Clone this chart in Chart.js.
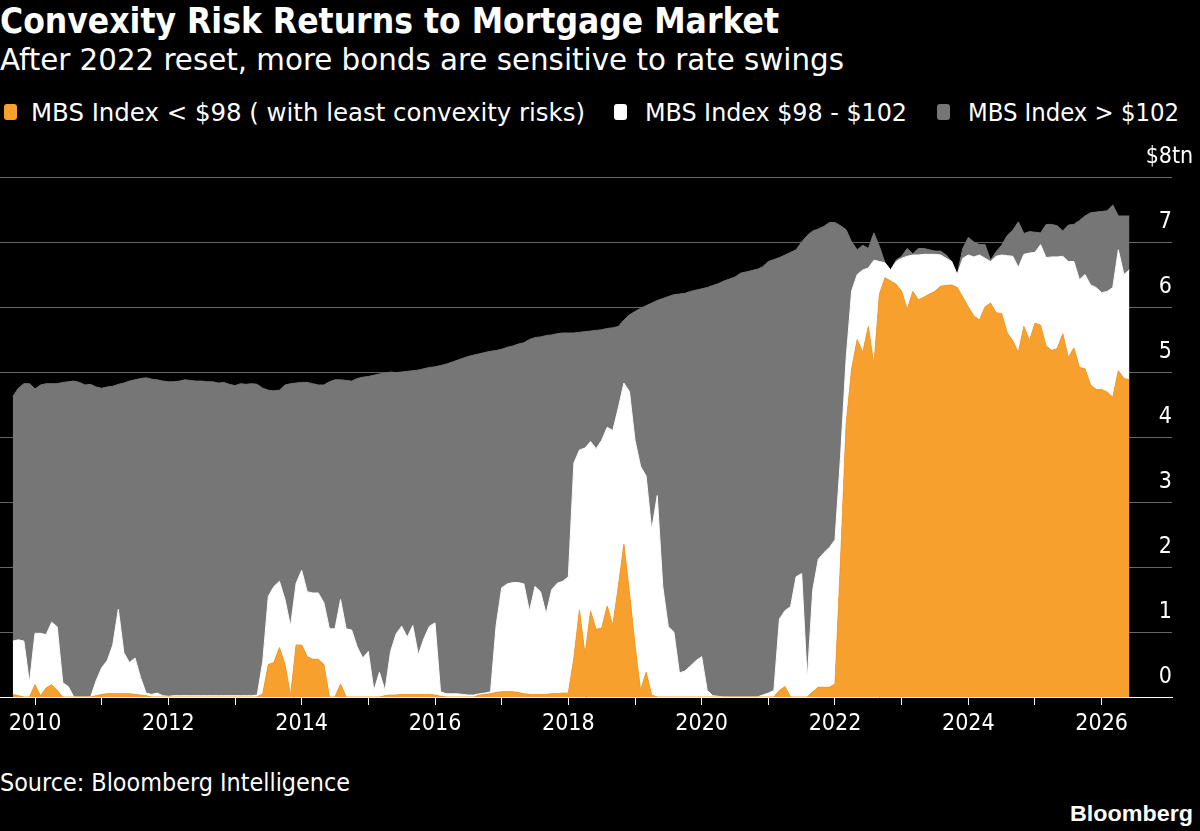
<!DOCTYPE html>
<html><head><meta charset="utf-8">
<script src="https://cdn.jsdelivr.net/npm/chart.js@4.4.1/dist/chart.umd.min.js"></script>
<style>
html,body{margin:0;padding:0;background:#000;width:1200px;height:831px;overflow:hidden;}
.t{position:absolute;white-space:nowrap;color:#fff;line-height:1;transform-origin:0 0;font-family:'Liberation Sans Narrow','DejaVu Sans Condensed','Arial Narrow',sans-serif;}
#title{left:0;top:4px;font-size:35px;font-weight:bold;}
#subtitle{left:0;top:45px;font-size:30px;}
.sw{position:absolute;width:13px;height:16px;border-radius:3px;top:104px;}
.lg{top:101px;font-size:24px;}
#source{left:0;top:771px;font-size:24px;}
#logo{top:803px;font-size:22px;font-weight:bold;font-family:'Liberation Sans','DejaVu Sans',sans-serif;}
canvas{position:absolute;left:0;top:140px;}
</style></head>
<body>
<div id="title" class="t">Convexity Risk Returns to Mortgage Market</div>
<div id="subtitle" class="t">After 2022 reset, more bonds are sensitive to rate swings</div>
<div class="sw" style="left:4px;background:#F8A02E"></div>
<div id="lg0" class="t lg"></div>
<div class="sw" style="left:614px;background:#ffffff"></div>
<div id="lg1" class="t lg"></div>
<div class="sw" style="left:937px;background:#767676"></div>
<div id="lg2" class="t lg"></div>
<canvas id="c" width="1200" height="607"></canvas>
<div id="source" class="t">Source: Bloomberg Intelligence</div>
<div id="logo" class="t">Bloomberg</div>
<script>
// ---- data (monthly, Sep 2009 .. Jun 2026), $ trillions ----
const startYear = 2009, startMonth = 9;
const seriesNames = ['MBS Index < $98 ( with least convexity risks)', 'MBS Index $98 - $102', 'MBS Index > $102'];
const orange = [
  0.04,0.02,0,0,
  0.19,0.02,0.14,0.19,0.10,0,0,0,0,0,0,0.02,
  0.04,0.05,0.05,0.05,0.05,0.05,0.04,0.03,0.02,0,0,0,
  0,0,0,0,0,0,0,0,0,0,0,0,
  0,0,0,0,0,0.05,0.5,0.53,0.76,0.5,0.02,0.8,
  0.8,0.62,0.58,0.58,0.5,0,0,0.2,0,0,0,0,
  0,0,0,0.02,0.03,0.03,0.04,0.04,0.04,0.04,0.04,0.04,
  0.03,0.01,0,0,0,0,0,0,0.03,0.04,0.05,0.07,
  0.08,0.08,0.08,0.07,0.05,0.04,0.04,0.04,0.04,0.05,0.05,0.06,
  0.06,0.6,1.34,0.65,1.32,1.04,1.06,1.4,1.1,1.7,2.35,1.6,
  0.8,0.1,0.38,0.03,0,0,0,0,0,0,0,0,
  0,0,0,0,0,0,0,0,0,0,0,0,
  0,0,0.1,0.16,0,0,0,0,0.08,0.15,0.15,0.15,
  0.2,2.1,4.2,5.05,5.5,5.3,5.7,5.1,6.2,6.45,6.4,6.35,
  6.24,5.96,6.24,6.11,6.15,6.2,6.24,6.32,6.33,6.34,6.3,6.15,
  6.0,5.86,5.8,6.0,6.06,5.91,5.9,5.6,5.48,5.3,5.7,5.48,
  5.75,5.72,5.4,5.33,5.36,5.59,5.22,5.37,5.07,5.05,4.8,4.73,
  4.73,4.69,4.61,5.02,4.9,4.88
];
const white = [
  0.82,0.86,0.86,0.22,
  0.79,0.96,0.82,0.96,0.98,0.22,0.16,0,0,0,0,0.23,
  0.41,0.51,0.75,1.30,0.63,0.48,0.56,0.27,0.04,0.04,0.06,0.02,
  0.01,0.02,0.02,0.02,0.02,0.02,0.02,0.02,0.02,0.02,0.02,0.02,
  0.02,0.02,0.02,0.02,0.03,0.50,1.05,1.17,1.02,1.0,1.07,0.95,
  1.15,1.0,1.02,1.02,0.95,1.05,1.05,1.3,1.05,1.03,0.77,0.6,
  0.7,0.1,0.38,0.08,0.67,0.94,1.05,0.88,1.06,0.61,0.86,1.05,
  1.11,0.07,0.05,0.05,0.05,0.04,0.03,0.03,0.02,0.02,0.03,1.03,
  1.6,1.66,1.68,1.69,1.69,1.28,1.66,1.58,1.24,1.6,1.7,1.72,
  1.79,3.0,2.46,3.18,2.61,2.78,2.89,2.75,3.0,2.75,2.48,3.1,
  3.15,3.45,3.02,2.54,3.1,1.7,1.08,1.0,0.37,0.4,0.48,0.56,
  0.62,0.1,0.02,0.01,0,0,0,0,0,0,0,0.03,
  0.06,0.1,1.1,1.17,1.39,1.85,1.9,0.27,1.57,1.97,2.07,2.15,
  2.22,1.6,1.0,1.2,1.0,1.27,0.9,1.62,0.5,0.23,0.17,0.35,
  0.51,0.82,0.56,0.69,0.66,0.61,0.57,0.48,0.42,0.36,0.2,0.6,
  0.8,0.91,1.0,0.75,0.64,0.87,0.9,1.19,1.3,1.31,1.11,1.35,
  1.09,1.24,1.36,1.44,1.41,1.19,1.48,1.33,1.35,1.45,1.54,1.57,
  1.49,1.55,1.69,1.86,1.6,1.69
];
const gray = [
  3.76,3.87,3.96,4.60,
  3.76,3.82,3.86,3.67,3.74,4.62,4.69,4.86,4.84,4.80,4.81,4.52,
  4.30,4.21,3.98,3.46,4.15,4.33,4.28,4.60,4.85,4.85,4.82,4.84,
  4.84,4.83,4.84,4.86,4.85,4.84,4.84,4.83,4.83,4.81,4.82,4.79,
  4.77,4.80,4.79,4.80,4.78,4.20,3.17,3.01,2.94,3.30,3.73,3.08,
  2.89,3.22,3.22,3.20,3.35,3.80,3.83,3.38,3.82,3.83,4.13,4.32,
  4.23,4.85,4.59,4.88,4.30,4.02,3.91,4.09,3.92,4.38,4.15,3.98,
  3.94,5.02,5.07,5.10,5.13,5.17,5.21,5.23,5.23,5.24,5.24,4.23,
  3.67,3.64,3.64,3.67,3.71,4.18,3.83,3.92,4.28,3.92,3.84,3.82,
  3.75,2.0,1.81,1.79,1.70,1.82,1.70,1.52,1.58,1.25,0.97,1.18,
  1.98,2.43,2.62,3.49,3.0,4.43,5.08,5.19,5.83,5.81,5.76,5.70,
  5.66,6.2,6.31,6.35,6.4,6.43,6.46,6.52,6.54,6.56,6.58,6.59,
  6.64,6.63,5.56,5.47,5.45,5.03,5.1,6.83,5.52,5.08,5.02,5.0,
  4.88,3.55,1.99,0.75,0.38,0.38,0.3,0.42,0.23,0,0,0.02,
  0.03,0.12,0.02,0.1,0.09,0.07,0.05,0.06,0.05,0,0,0.15,
  0.27,0.23,0.16,0.21,0.02,0.07,0.15,0.31,0.4,0.7,0.32,0.33,
  0.31,0.18,0.51,0.5,0.48,0.39,0.56,0.57,0.91,0.9,1.11,1.16,
  1.25,1.24,1.27,0.52,0.9,0.83
];
const yearTicks = [2010,2011,2012,2013,2014,2015,2016,2017,2018,2019,2020,2021,2022,2023,2024,2025,2026];
const yTickValues = [0,1,2,3,4,5,6,7,8];
const yTickLabels = ['0','1','2','3','4','5','6','7','$8tn'];
const yTopUnit = 'tn';

// month positions (decimal years) for each data point
const months = [];
for (let i = 0; i < orange.length; i++) {
  const m = startMonth - 1 + i;
  months.push(startYear + Math.floor(m / 12) + (m % 12) / 12);
}
const pts = arr => arr.map((v, i) => ({x: months[i], y: v}));

const ORANGE = '#F8A02E', WHITE = '#FFFFFF', GRAY = '#767676';
const FONT = "'Liberation Sans Narrow','DejaVu Sans Condensed','Arial Narrow',sans-serif";

// HTML text
document.getElementById('lg0').textContent = seriesNames[0];
document.getElementById('lg1').textContent = seriesNames[1];
document.getElementById('lg2').textContent = seriesNames[2];
function fit(id, left, width) {
  const el = document.getElementById(id);
  el.style.left = left + 'px';
  const w = el.getBoundingClientRect().width;
  el.style.transform = 'scaleX(' + (width / w) + ')';
}
fit('title', 0, 779);
fit('subtitle', 0, 844);
fit('lg0', 31, 554);
fit('lg1', 645, 262);
fit('lg2', 968, 211);
fit('source', 0, 350);
fit('logo', 1070, 123);

const yLabelPlugin = {
  id: 'yLabels',
  afterDraw(chart) {
    const {ctx, chartArea, scales: {y}} = chart;
    ctx.save();
    ctx.fillStyle = '#fff';
    ctx.font = '23px ' + FONT;
    ctx.textBaseline = 'middle';
    yTickValues.forEach((v, k) => {
      const py = y.getPixelForValue(v) - 20;
      const txt = yTickLabels[k];
      if (txt.endsWith(yTopUnit)) {
        const numW = ctx.measureText(txt.slice(0, txt.length - yTopUnit.length)).width;
        ctx.textAlign = 'left';
        ctx.fillText(txt, chartArea.right - numW, py);
      } else {
        ctx.textAlign = 'right';
        ctx.fillText(txt, chartArea.right, py);
      }
    });
    ctx.restore();
  }
};

const common = {pointRadius: 0, pointHoverRadius: 0, tension: 0, borderWidth: 1};
new Chart(document.getElementById('c').getContext('2d'), {
  type: 'line',
  data: {
    datasets: [
      Object.assign({label: seriesNames[0], data: pts(orange), backgroundColor: ORANGE, borderColor: ORANGE, fill: 'origin'}, common),
      Object.assign({label: seriesNames[1], data: pts(white), backgroundColor: WHITE, borderColor: WHITE, fill: '-1'}, common),
      Object.assign({label: seriesNames[2], data: pts(gray), backgroundColor: GRAY, borderColor: GRAY, fill: '-1'}, common)
    ]
  },
  options: {
    responsive: false,
    animation: false,
    devicePixelRatio: 1,
    layout: {padding: {top: 37, right: 28, left: 0, bottom: 0}},
    plugins: {legend: {display: false}, tooltip: {enabled: false}},
    scales: {
      x: {
        type: 'linear', min: 2009.475, max: 2027.055,
        afterBuildTicks: s => { s.ticks = yearTicks.map(v => ({value: v})); },
        afterFit: s => { s.height = 50; },
        ticks: {autoSkip: false, maxRotation: 0, color: '#fff', font: {family: FONT, size: 23}, padding: 5,
                callback: v => (v % 2 === 0 ? String(v) : '')},
        grid: {drawOnChartArea: false, drawTicks: true, tickLength: 8, color: '#fff', lineWidth: 1},
        border: {display: true, color: '#fff', width: 1}
      },
      y: {
        stacked: true, min: 0, max: 8,
        afterFit: s => { s.width = 0; },
        ticks: {display: false, stepSize: 1},
        grid: {color: c => (c.tick.value === 0 ? 'rgba(0,0,0,0)' : '#666'), lineWidth: 1, drawTicks: false},
        border: {display: false}
      }
    }
  },
  plugins: [yLabelPlugin]
});
</script>
</body></html>
